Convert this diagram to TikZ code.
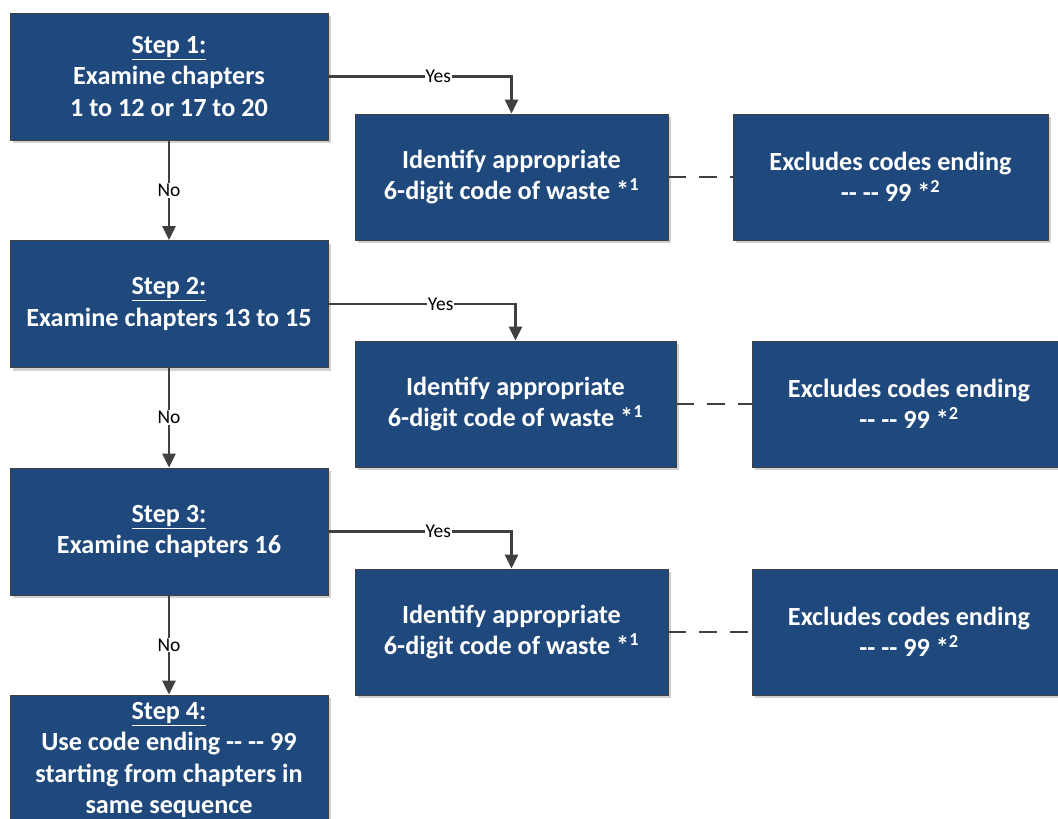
\documentclass[tikz,border=0pt]{standalone}
\usepackage{fontspec}
\setmainfont{Carlito}
\usetikzlibrary{arrows.meta,shadows}
\definecolor{boxblue}{HTML}{1F497D}
\definecolor{linegray}{HTML}{404040}
\begin{document}
\begin{tikzpicture}[
        x=1pt,
        y=-1pt,
        font=\bfseries
    ]
    \tikzset{
        stepbox/.style = {rectangle, draw=linegray, line width=0.8pt, fill=boxblue, text=white, align=center,
            font=\bfseries\fontsize{26.2}{31.5}\selectfont, minimum height=127pt, inner sep=0pt,
            drop shadow={shadow xshift=3pt, shadow yshift=-3pt, fill=black!18, opacity=1}},
        lbl/.style = {fill=white, font=\fontsize{19.5}{20}\selectfont, inner sep=1pt, text=black},
        arr/.style = {-{Triangle[width=13pt,length=14pt]}, line width=2.6pt, linegray},
        dashl/.style = {line width=2.6pt, linegray, dash pattern=on 18pt off 13pt},
    }
    \useasboundingbox (0,0) rectangle (1058,819);
    \node[stepbox, minimum width=318pt] at (169,76.5) (s1) {\underline{Step 1:}\\Examine chapters\\1 to 12 or 17 to 20};
    \node[stepbox, minimum width=318pt] at (169,304) (s2) {\underline{Step 2:}\\Examine chapters 13 to 15};
    \node[stepbox, minimum width=318pt] at (169,531.5) (s3) {\underline{Step 3:}\\Examine chapters 16};
    \node[stepbox, minimum width=318pt, minimum height=130pt] at (169,760) (s4) {\underline{Step 4:}\\Use code ending -{}- -{}- 99\\starting from chapters in\\same sequence};
    %
    \node[stepbox, minimum width=313pt, minimum height=126pt] at (511.5,177) (i1) {Identify appropriate\\6-digit code of waste *\textsuperscript{1}};
    \node[stepbox, minimum width=321pt, minimum height=126pt] at (515.5,404) (i2) {Identify appropriate\\6-digit code of waste *\textsuperscript{1}};
    \node[stepbox, minimum width=313pt, minimum height=126pt] at (511.5,632) (i3) {Identify appropriate\\6-digit code of waste *\textsuperscript{1}};
    %
    \node[stepbox, minimum width=315pt, minimum height=126pt] at (890.5,177) (e1) {Excludes codes ending\\-{}- -{}- 99 *\textsuperscript{2}};
    \node[stepbox, minimum width=314pt, minimum height=126pt] at (909,404) (e2) {Excludes codes ending\\-{}- -{}- 99 *\textsuperscript{2}};
    \node[stepbox, minimum width=314pt, minimum height=126pt] at (909,632) (e3) {Excludes codes ending\\-{}- -{}- 99 *\textsuperscript{2}};
    %
    \draw[arr] (s1) -- node[lbl] {No} (s2);
    \draw[arr] (s2) -- node[lbl] {No} (s3);
    \draw[arr] (s3) -- node[lbl] {No} (s4);
    %
    \draw[arr] (s1.east) -| node[lbl, pos=0.3] {Yes} (i1.north);
    \draw[arr] (s2.east) -| node[lbl, pos=0.3] {Yes} (i2.north);
    \draw[arr] (s3.east) -| node[lbl, pos=0.3] {Yes} (i3.north);
    %
    \draw[dashl] (i1) -- (e1);
    \draw[dashl] (i2) -- (e2);
    \draw[dashl] (i3) -- (e3);
\end{tikzpicture}
\end{document}
